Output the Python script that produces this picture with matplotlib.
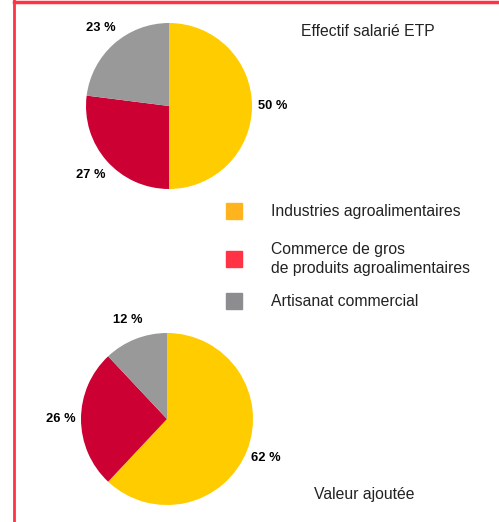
import matplotlib
matplotlib.use('Agg')
import matplotlib.pyplot as plt
from matplotlib.lines import Line2D
from matplotlib.patches import Rectangle

plt.rcParams['font.family'] = ['Liberation Sans', 'DejaVu Sans']

# Donnees
categories = ["Industries agroalimentaires",
              "Commerce de gros\nde produits agroalimentaires",
              "Artisanat commercial"]
effectif = [50, 27, 23]
valeur_ajoutee = [62, 26, 12]

pie_colors = ["#FFCC00", "#CC0033", "#999999"]
legend_colors = ["#FFB41E", "#FF3344", "#8C8C91"]
border_color = "#FF3344"

W, H = 499, 522
fig = plt.figure(figsize=(W / 100, H / 100), dpi=100)


def px_axes(left, top, size):
    # axes positionnee en pixels (origine en haut a gauche)
    return fig.add_axes([left / W, (H - top - size) / H, size / W, size / H])


def draw_pie(ax, values, dist):
    wedges, texts = ax.pie(values, colors=pie_colors, startangle=90, counterclock=False,
                           labels=[f"{v} %" for v in values], labeldistance=dist,
                           wedgeprops=dict(linewidth=0),
                           textprops=dict(fontsize=9.3, fontweight='bold', color='black'))
    for t in texts:
        t.set_ha('center')
        t.set_va('center')
    ax.set_xlim(-1, 1)
    ax.set_ylim(-1, 1)
    ax.set_aspect('equal')
    ax.axis('off')


ax1 = px_axes(86, 23, 166)
draw_pie(ax1, effectif, 1.25)

ax2 = px_axes(81, 333, 172)
draw_pie(ax2, valeur_ajoutee, 1.24)

# Titres
fig.text(368 / W, 1 - 31 / H, "Effectif salarié ETP", ha='center', va='center',
         fontsize=11.3, color='#222222')
fig.text(364 / W, 1 - 494 / H, "Valeur ajoutée", ha='center', va='center',
         fontsize=11.3, color='#222222')

# Legende
legend_y = [211, 259, 301]
for lab, col, y in zip(categories, legend_colors, legend_y):
    fig.patches.append(Rectangle((226 / W, 1 - (y + 8) / H), 16 / W, 16 / H,
                                 transform=fig.transFigure, color=col, figure=fig))
    fig.text(271 / W, 1 - y / H, lab, ha='left', va='center', fontsize=11.3,
             color='#222222', linespacing=1.3)

# Bordure rouge
fig.lines.append(Line2D([13.5 / W, 13.5 / W], [0, 1], transform=fig.transFigure,
                        color=border_color, linewidth=2))
fig.lines.append(Line2D([13.5 / W, 1], [1 - 1.5 / H, 1 - 1.5 / H], transform=fig.transFigure,
                        color=border_color, linewidth=2.5))

fig.savefig("out.png", dpi=100)
